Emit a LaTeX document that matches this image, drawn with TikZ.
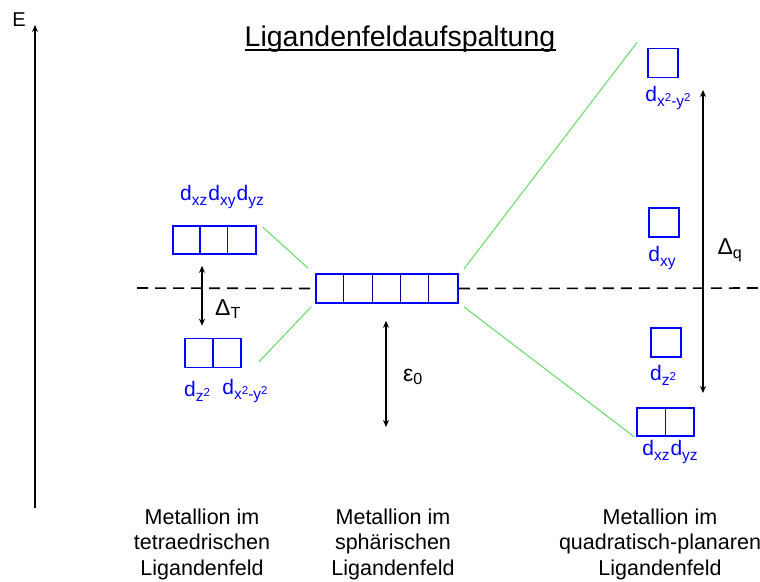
\documentclass[tikz,border=0pt]{standalone}
\usepackage{fontspec}
\setmainfont{Liberation Sans}
\usetikzlibrary{arrows.meta}
\definecolor{lgreen}{RGB}{110,220,110}
\newcommand{\dsub}[1]{d\raisebox{-0.45ex}{\fontsize{15.5}{16}\selectfont #1}}
\newcommand{\sq}{\raisebox{0.6ex}{\fontsize{11.5}{12}\selectfont 2}}

\begin{document}
\begin{tikzpicture}[x=1pt, y=-1pt, >={Stealth[length=7pt,width=6pt]},
  orb/.style={draw=blue, line width=1.6pt, minimum height=28pt, inner sep=0pt},
  cell/.style={draw=blue, line width=1.6pt},
  thincell/.style={draw=blue!60!black, line width=0.8pt},
  lbl/.style={text=blue, font=\fontsize{21}{23}\selectfont, inner sep=0pt},
  split/.style={draw=lgreen, line width=1.1pt},
  gap/.style={<->, line width=1.5pt},
  level/.style={dashed, dash pattern=on 11pt off 7pt, line width=1.6pt},
  captext/.style={align=center, font=\fontsize{21.5}{25.5}\selectfont, inner sep=0pt}]
\useasboundingbox (0,0) rectangle (760,581);

% energy axis
\coordinate (ebot) at (35,508);
\coordinate (etop) at (35,25);
\draw[->, line width=1.8pt] (ebot) -- (etop);
\node (E) [font=\fontsize{20}{22}\selectfont] at (19,20) {E};

% title
\node (title) [anchor=base, inner sep=0pt, font=\fontsize{28.5}{31}\selectfont] at (400,46) {Ligandenfeldaufspaltung};
\draw[line width=1.4pt] ([yshift=-4pt]title.base west) -- ([yshift=-4pt]title.base east);

% orbitals
\node (t3)[orb, minimum width=83pt] at (214.5,240) {};
\node (t2)[orb, minimum width=56pt, minimum height=29pt] at (213,353) {};
\node (sph)[orb, minimum width=142pt, minimum height=29pt] at (387,288.5) {};
\node (qx2)[orb, minimum width=30pt, minimum height=29pt] at (663,63) {};
\node (qxy)[orb, minimum width=30pt, minimum height=29pt] at (664,222.5) {};
\node (qz2)[orb, minimum width=30pt, minimum height=29pt] at (666,342.5) {};
\node (qxz)[orb, minimum width=57pt] at (665.5,422) {};
\foreach \i in {1,2}
  \draw[cell] ([xshift=\i*27.7pt]t3.north west) -- ([xshift=\i*27.7pt]t3.south west);
\draw[cell] (t2.north) -- (t2.south);
\draw[cell] (qxz.north) -- (qxz.south);
\foreach \i in {1,...,4}
  \draw[thincell] ([xshift=\i*28.4pt]sph.north west) -- ([xshift=\i*28.4pt]sph.south west);

% labels
\node (lt3)[lbl] at (222,197) {\dsub{xz}\kern1pt\dsub{xy}\kern1pt\dsub{yz}};
\node (lz2)[lbl] at (197,391) {\dsub{z\sq}};
\node (lx2)[lbl] at (245,391) {\dsub{x\sq-y\sq}};
\node (lqx2)[lbl] at (668,98) {\dsub{x\sq-y\sq}};
\node (lqxy)[lbl] at (662,258) {\dsub{xy}};
\node (lqz2)[lbl] at (663,375) {\dsub{z\sq}};
\node (lqxz)[lbl] at (670,452) {\dsub{xz}\kern1pt\dsub{yz}};

% dashed reference level
\coordinate (dl) at (137,288);
\coordinate (dr) at (760,288);
\draw[level] (dl) -- (sph.west);
\draw[level] (sph.east) -- (dr);

% splitting lines
\draw[split] ([shift={(6pt,-2pt)}]t3.north east) -- ([shift={(-7pt,5pt)}]sph.north west);
\draw[split] ([shift={(17pt,-9pt)}]t2.east) -- ([shift={(-4pt,-3pt)}]sph.south west);
\draw[split] ([shift={(5pt,4pt)}]sph.north east) -- ([shift={(-10pt,5.5pt)}]qx2.north west);
\draw[split] ([shift={(5pt,-3pt)}]sph.south east) -- ([shift={(-2pt,0pt)}]qxz.south west);

% gaps
\draw[gap] ([shift={(-12.5pt,-11pt)}]t3.south) -- ([shift={(-11pt,12pt)}]t2.north);
\node (dT)[font=\fontsize{23}{25}\selectfont, inner sep=0pt] at (228,309) {Δ\textsubscript{T}};
\coordinate (e0b) at (386,427);
\draw[gap] ([shift={(-1pt,-17pt)}]sph.south) -- (e0b);
\node (eps)[font=\fontsize{23}{25}\selectfont, inner sep=0pt] at (413,377) {ε\textsubscript{0}};
\coordinate (qtop) at (703,90);
\coordinate (qbot) at (703,393);
\draw[gap] (qtop) -- (qbot);
\node (dq)[font=\fontsize{23}{25}\selectfont, inner sep=0pt] at (730,250) {Δ\textsubscript{q}};

% captions
\node (ctet)[captext] at (202,544) {Metallion im\\tetraedrischen\\Ligandenfeld};
\node (csph)[captext] at (393,544) {Metallion im\\sphärischen\\Ligandenfeld};
\node (cqp)[captext] at (660,544) {Metallion im\\quadratisch-planaren\\Ligandenfeld};
\end{tikzpicture}
\end{document}
